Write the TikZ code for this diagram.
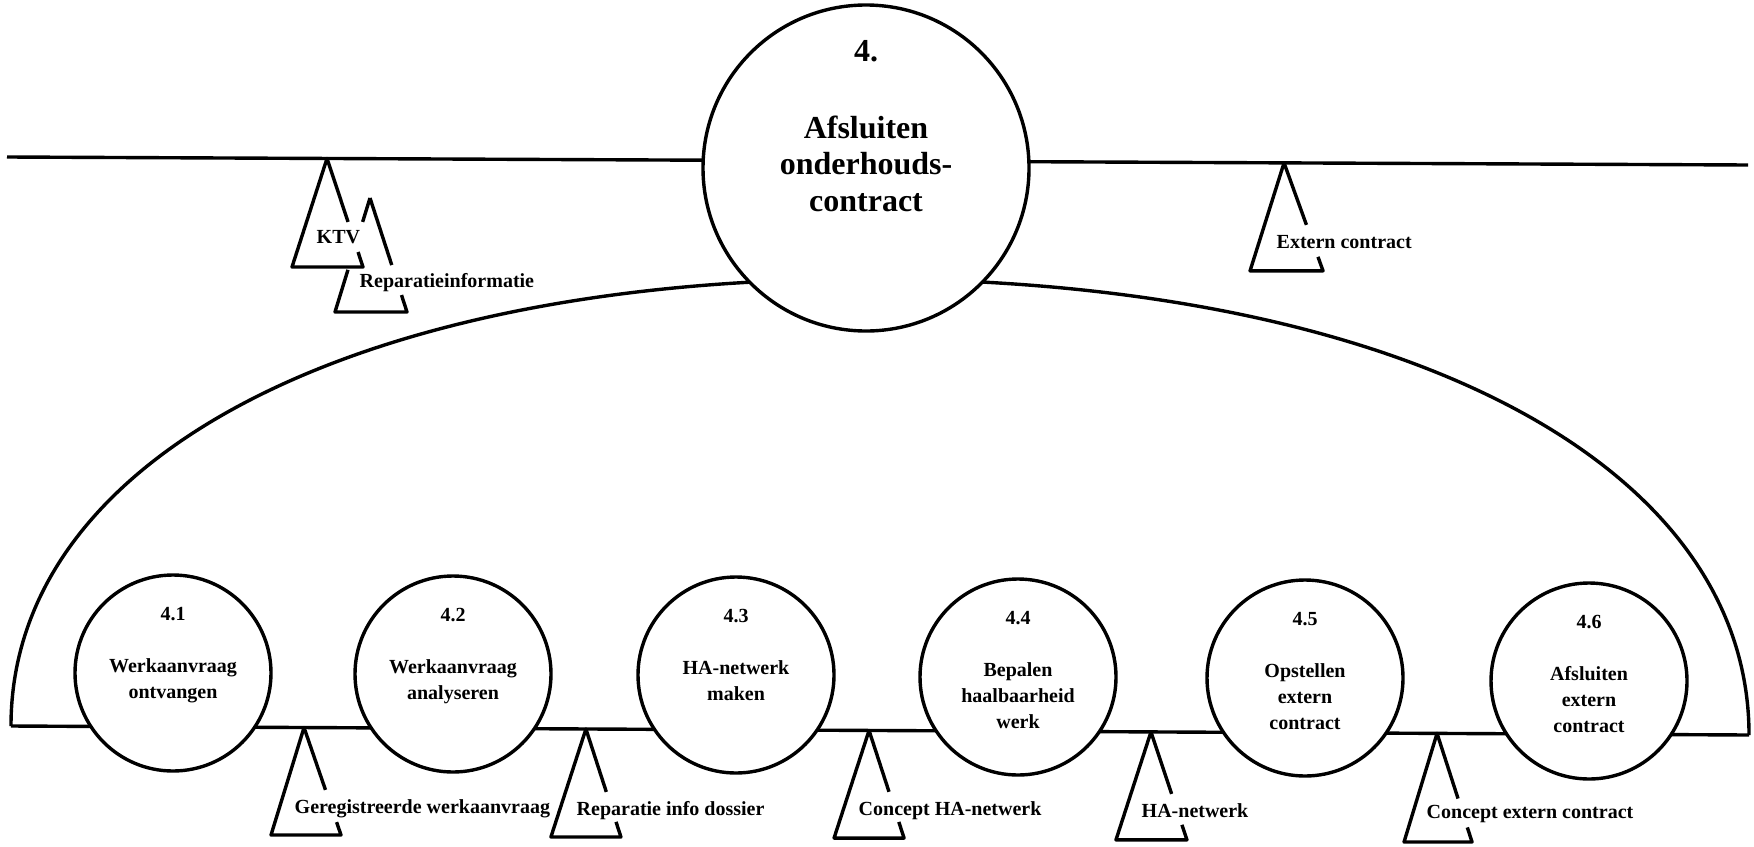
\documentclass[tikz,border=0pt]{standalone}
\usepackage{fontspec}
\setmainfont{Liberation Serif}
\usetikzlibrary{calc}

% data store symbol: apex, left offset, right offset, height,
% fraction where the upper right stroke stops, fraction where the lower stub starts
\newcommand\storetri[6]{%
  \draw[store] ($(#1)+#5*(#3,#4)$) -- (#1) -- ($(#1)+(-#2,#4)$)
    -- ($(#1)+(#3,#4)$) -- ($(#1)+#6*(#3,#4)$);}

\begin{document}
\begin{tikzpicture}[x=0.5pt, y=-0.5pt, line width=1.7pt,
  proc/.style={circle, draw, fill=white, minimum size=98pt, inner sep=0pt},
  mainproc/.style={circle, draw, fill=white, minimum size=163pt, inner sep=0pt},
  num/.style={font=\fontsize{10}{13}\selectfont\bfseries, anchor=base, inner sep=0pt},
  ptext/.style={font=\fontsize{10}{13}\selectfont\bfseries, anchor=base,
    align=center, text width=90pt, inner sep=0pt},
  mainnum/.style={font=\fontsize{16}{18.25}\selectfont\bfseries, anchor=base, inner sep=0pt},
  maintext/.style={font=\fontsize{16}{18.25}\selectfont\bfseries, anchor=base,
    align=center, text width=150pt, inner sep=0pt},
  storelabel/.style={font=\fontsize{10}{13}\selectfont\bfseries, anchor=base west, inner sep=0pt},
  store/.style={line join=round}
]
\fill[white] (0,0) rectangle (1754,846);
\useasboundingbox (0,0) rectangle (1754,846);

% end points of the two horizontal boundaries
\coordinate (tl) at (7,157);
\coordinate (tr) at (1748,165);
\coordinate (bl) at (11,726);
\coordinate (br) at (1749,735);
\coordinate (top) at (866,279);

% boundaries and the enclosing arc (drawn first, circles cover them)
\draw (tl) -- (tr);
\draw (bl) -- (br);
\draw (bl) .. controls (11,458) and (353,279) .. (top)
           .. controls (1396,279) and (1749,461) .. (br);

% main process
\node[mainproc] (p4) at (866,168) {};
\node[mainnum] (p4n) at ([yshift=53.5pt]p4.center) {4.};
\node[maintext] (p4t) at ([yshift=15pt]p4.center) {Afsluiten\\onderhouds-\\contract};

% sub-processes
\node[proc] (p41) at (173,673) {};
\node[proc] (p42) at (453,674) {};
\node[proc] (p43) at (736,675) {};
\node[proc] (p44) at (1018,677) {};
\node[proc] (p45) at (1305,678) {};
\node[proc] (p46) at (1589,681) {};

\node[num] (p41n) at ([yshift=26.5pt]p41.center) {4.1};
\node[num] (p42n) at ([yshift=26.5pt]p42.center) {4.2};
\node[num] (p43n) at ([yshift=26.5pt]p43.center) {4.3};
\node[num] (p44n) at ([yshift=26.5pt]p44.center) {4.4};
\node[num] (p45n) at ([yshift=26.5pt]p45.center) {4.5};
\node[num] (p46n) at ([yshift=26.5pt]p46.center) {4.6};

\node[ptext] (p41t) at ([yshift=0.5pt]p41.center) {Werkaanvraag\\ontvangen};
\node[ptext] (p42t) at ([yshift=0.5pt]p42.center) {Werkaanvraag\\analyseren};
\node[ptext] (p43t) at ([yshift=0.5pt]p43.center) {HA-netwerk\\maken};
\node[ptext] (p44t) at ([yshift=0.5pt]p44.center) {Bepalen\\haalbaarheid\\werk};
\node[ptext] (p45t) at ([yshift=0.5pt]p45.center) {Opstellen\\extern\\contract};
\node[ptext] (p46t) at ([yshift=0.5pt]p46.center) {Afsluiten\\extern\\contract};

% stores hanging from the upper boundary
\coordinate (sk) at ($(tl)!0.1838!(tr)$);
\coordinate (sx) at ($(tl)!0.7335!(tr)$);
\coordinate (sri) at (370,198);
\storetri{sk}{35}{36}{108.5}{0.585}{0.862}
\storetri{sx}{34}{39}{108}{0.574}{0.87}
% second store, partly behind the first one
\draw[store] (sri) -- ($(sri)+0.21*(-35,114)$);
\draw[store] ($(sri)+0.63*(-35,114)$) -- ($(sri)+(-35,114)$) -- ($(sri)+(37,114)$)
  -- ($(sri)+0.851*(37,114)$);
\draw[store] (sri) -- ($(sri)+0.588*(37,114)$);

\node[storelabel] (lk) at (315,243) {KTV};
\node[storelabel] (lri) at (358,287) {Reparatieinformatie};
\node[storelabel] (lx) at (1275,248) {Extern contract};

% stores hanging from the lower boundary
\coordinate (sg) at ($(bl)!0.1686!(br)$);
\coordinate (sr) at ($(bl)!0.3308!(br)$);
\coordinate (sc) at ($(bl)!0.4937!(br)$);
\coordinate (sh) at ($(bl)!0.6559!(br)$);
\coordinate (se) at ($(bl)!0.8205!(br)$);
\storetri{sg}{33}{37}{107.5}{0.58}{0.88}
\storetri{sr}{35}{35}{108}{0.583}{0.86}
\storetri{sc}{35}{35}{107.6}{0.57}{0.85}
\storetri{sh}{35}{36}{108}{0.574}{0.86}
\storetri{se}{33}{35}{108.6}{0.6}{0.866}

\node[storelabel] (lg) at (293,813) {Geregistreerde werkaanvraag};
\node[storelabel] (lr) at (575,815) {Reparatie info dossier};
\node[storelabel] (lc) at (857,815) {Concept HA-netwerk};
\node[storelabel] (lh) at (1140,817) {HA-netwerk};
\node[storelabel] (le) at (1425,818) {Concept extern contract};
\end{tikzpicture}
\end{document}
